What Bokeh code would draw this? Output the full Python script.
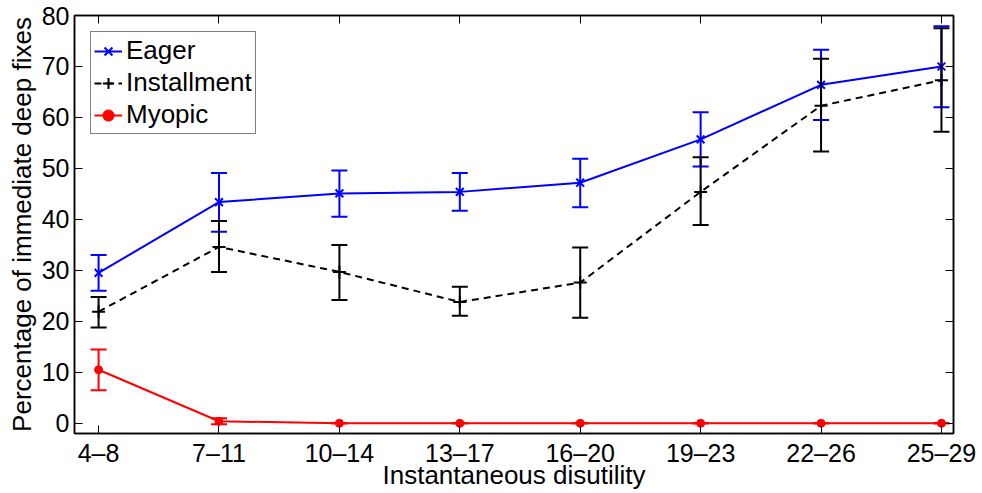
from bokeh.plotting import figure
from bokeh.models import (ColumnDataSource, Whisker, TeeHead, FixedTicker, LinearAxis,
                          Legend, LegendItem, Range1d)
from bokeh.embed import file_html
from bokeh.resources import INLINE

categories = ["4–8", "7–11", "10–14", "13–17", "16–20", "19–23", "22–26", "25–29"]
x_pos = [1, 2, 3, 4, 5, 6, 7, 8]
y_ticks = [0, 10, 20, 30, 40, 50, 60, 70, 80]

eager = [29.5, 43.4, 45.1, 45.4, 47.2, 55.7, 66.4, 70.0]
eager_lo = [26.0, 37.6, 40.5, 41.7, 42.4, 50.4, 59.5, 62.0]
eager_hi = [33.0, 49.1, 49.6, 49.1, 51.9, 61.0, 73.3, 77.9]

inst = [21.9, 34.6, 29.7, 23.8, 27.6, 45.4, 62.3, 67.3]
inst_lo = [18.8, 29.7, 24.2, 21.1, 20.7, 38.9, 53.3, 57.2]
inst_hi = [24.8, 39.7, 35.0, 26.8, 34.5, 52.2, 71.5, 77.5]

myo = [10.5, 0.4, 0.0, 0.0, 0.0, 0.0, 0.0, 0.0]
myo_lo = [6.5, -0.2, 0.0, 0.0, 0.0, 0.0, 0.0, 0.0]
myo_hi = [14.5, 1.0, 0.0, 0.0, 0.0, 0.0, 0.0, 0.0]

FONT = "Liberation Sans"
X0, X1, Y0, Y1 = 0.8, 8.1, -2, 80

p = figure(width=982, height=493, output_backend="svg", toolbar_location=None,
           x_range=Range1d(X0, X1), y_range=Range1d(Y0, Y1),
           min_border_left=74, min_border_right=29, min_border_top=15, min_border_bottom=60)
p.xgrid.visible = False
p.ygrid.visible = False
p.outline_line_color = "black"
p.outline_line_width = 1.5
p.background_fill_color = "white"
p.border_fill_color = "white"

xa = p.xaxis[0]
xa.ticker = FixedTicker(ticks=x_pos)
xa.major_label_overrides = {x: c for x, c in zip(x_pos, categories)}
xa.axis_label = "Instantaneous disutility"
ya = p.yaxis[0]
ya.ticker = FixedTicker(ticks=y_ticks)
ya.axis_label = "Percentage of immediate deep fixes"
for ax in (xa, ya):
    ax.major_tick_in = 8
    ax.major_tick_out = 0
    ax.minor_tick_line_color = None
    ax.axis_line_color = "black"
    ax.axis_line_width = 1.5
    ax.major_tick_line_color = "black"
    ax.major_tick_line_width = 1
    ax.major_label_text_font = FONT
    ax.major_label_text_font_size = "25px"
    ax.major_label_text_color = "black"
    ax.axis_label_text_font = FONT
    ax.axis_label_text_font_size = "26px"
    ax.axis_label_text_font_style = "normal"
    ax.axis_label_text_color = "black"
xa.major_label_standoff = 5
xa.axis_label_standoff = -10
ya.major_label_standoff = 5
ya.axis_label_standoff = 2

top = LinearAxis(ticker=FixedTicker(ticks=x_pos))
top.major_label_overrides = {x: "" for x in x_pos}
right = LinearAxis(ticker=FixedTicker(ticks=y_ticks))
right.major_label_overrides = {y: "" for y in y_ticks}
for ax in (top, right):
    ax.major_tick_in = 8
    ax.major_tick_out = 0
    ax.minor_tick_line_color = None
    ax.major_label_text_font_size = "10px"
    ax.major_label_standoff = 0
    ax.axis_line_color = "black"
    ax.axis_line_width = 1.5
p.add_layout(top, "above")
p.add_layout(right, "right")


def series(vals, lo, hi, color, dash, marker, msize):
    src = ColumnDataSource(dict(x=x_pos, y=vals, lo=lo, hi=hi))
    w = Whisker(source=src, base="x", upper="hi", lower="lo", line_color=color, line_width=2,
                upper_head=TeeHead(size=16, line_color=color, line_width=2),
                lower_head=TeeHead(size=16, line_color=color, line_width=2), level="glyph")
    p.add_layout(w)
    ln = p.line("x", "y", source=src, line_color=color, line_width=2, line_dash=dash)
    if marker == "circle":
        mk = p.scatter("x", "y", source=src, marker="circle", size=msize,
                       fill_color=color, line_color=color)
    else:
        mk = p.scatter("x", "y", source=src, marker=marker, size=msize,
                       line_color=color, line_width=2, fill_color=None)
    return [ln, mk]


r_e = series(eager, eager_lo, eager_hi, "#0000ff", "solid", "x", 11)
r_i = series(inst, inst_lo, inst_hi, "black", "7 5", "cross", 13)
r_m = series(myo, myo_lo, myo_hi, "#ff0000", "solid", "circle", 8)

legend = Legend(items=[LegendItem(label="Eager", renderers=r_e),
                       LegendItem(label="Installment", renderers=r_i),
                       LegendItem(label="Myopic", renderers=r_m)],
                location="top_left", margin=16, padding=3, spacing=1,
                glyph_width=28, glyph_height=28, label_height=28, label_standoff=4,
                label_text_font=FONT, label_text_font_size="26px", label_text_color="black",
                border_line_color="black", border_line_width=1.5,
                background_fill_color="white", background_fill_alpha=1.0)
p.add_layout(legend)

open("out.html", "w").write(file_html(p, INLINE))
